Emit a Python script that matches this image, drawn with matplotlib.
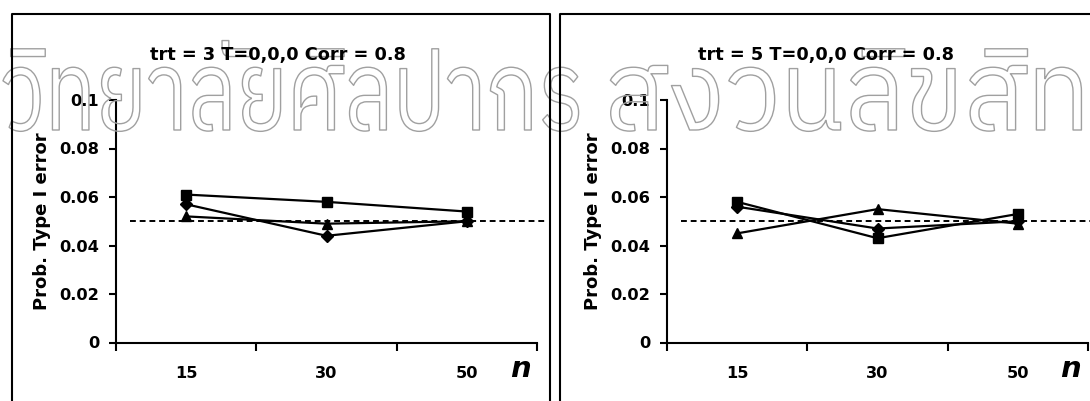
import matplotlib
matplotlib.use("Agg")
import matplotlib.pyplot as plt
from matplotlib import font_manager, ft2font, patheffects
from matplotlib.lines import Line2D
from matplotlib.transforms import Affine2D

# ---- data -------------------------------------------------------------
sample_sizes = ["15", "30", "50"]
y_ticks = [0, 0.02, 0.04, 0.06, 0.08, 0.1]
y_tick_labels = ["0", "0.02", "0.04", "0.06", "0.08", "0.1"]
nominal_alpha = 0.05

panel_titles = ["trt = 3 T=0,0,0 Corr = 0.8", "trt = 5 T=0,0,0 Corr = 0.8"]

trt3_diamond = [0.057, 0.044, 0.050]
trt3_square = [0.061, 0.058, 0.054]
trt3_triangle = [0.052, 0.049, 0.050]

trt5_diamond = [0.056, 0.047, 0.050]
trt5_square = [0.058, 0.043, 0.053]
trt5_triangle = [0.045, 0.055, 0.049]

y_label = "Prob. Type I error"
x_label = "n"
watermark_left = "มหาวิทยาลัยศิลปากร"
watermark_left_head = "มหา"
watermark_right = "สงวนลิขสิทธิ์"
watermark_right_shown = "สงวนลิขสิท"

# ---- figure -----------------------------------------------------------
W, H = 1090, 401
plt.rcParams["font.family"] = "DejaVu Sans"
plt.rcParams["font.weight"] = "bold"

fig = plt.figure(figsize=(W / 100, H / 100), dpi=100)


def fx(px):
    return px / W


def fy(py):
    return 1 - py / H


def find_thai_font():
    found = []
    for entry in font_manager.fontManager.ttflist:
        try:
            cmap = ft2font.FT2Font(entry.fname).get_charmap()
        except Exception:
            continue
        if 0x0E27 in cmap and 0x0E2A in cmap and 0x0E17 in cmap:
            found.append(entry.name)
    if not found:
        return None
    # a plain, loopless face reads closest to the condensed display style
    for name in found:
        if "Thai" in name and "Looped" not in name and "UI" not in name:
            return name
    for name in found:
        if "Looped" not in name:
            return name
    return found[0]


class OutlineStretch(patheffects.AbstractPathEffect):
    """Hollow outline of the glyphs, rescaled about an anchor point."""

    def __init__(self, sx, sy, anchor, color, lw):
        super().__init__()
        self.sx, self.sy = sx, sy
        self.anchor = anchor
        self.color = color
        self.lw = lw

    def draw_path(self, renderer, gc, tpath, affine, rgbFace):
        ax_, ay_ = self.anchor
        stretch = (Affine2D().translate(-ax_, -ay_)
                   .scale(self.sx, self.sy).translate(ax_, ay_))
        gc0 = renderer.new_gc()
        gc0.copy_properties(gc)
        gc0.set_foreground(self.color)
        gc0.set_linewidth(self.lw)
        renderer.draw_path(gc0, tpath, affine + stretch, None)
        gc0.restore()


# outlined watermark across the top, in two words
thai_font = find_thai_font()
if thai_font is not None:
    renderer = fig.canvas.get_renderer()
    wm_size = 60
    wm_sy = 1.35
    base_px = 130
    wm_color = "#a0a0a0"
    wm_kw = dict(fontsize=wm_size, family=thai_font, fontweight="normal",
                 color="none", ha="left", va="baseline", zorder=0)

    def text_width(s):
        t = fig.text(0, 0, s, **wm_kw)
        w = t.get_window_extent(renderer).width
        t.remove()
        return w

    # first word: starts past the left edge, ends just before the panel gap
    w_head = text_width(watermark_left_head)
    sx_left = 583.0 / (text_width(watermark_left) - w_head)
    x0_left = -w_head * sx_left
    fig.text(fx(x0_left), fy(base_px), watermark_left, **wm_kw,
             path_effects=[OutlineStretch(sx_left, wm_sy, (x0_left, H - base_px),
                                          wm_color, 1.0)])

    # second word: runs off the right edge
    x0_right = 604.0
    sx_right = (1090.0 - x0_right) / text_width(watermark_right_shown)
    fig.text(fx(x0_right), fy(base_px), watermark_right, **wm_kw,
             path_effects=[OutlineStretch(sx_right, wm_sy, (x0_right, H - base_px),
                                          wm_color, 1.0)])

# panel frames
frame_kw = dict(color="black", lw=1.5, transform=fig.transFigure, clip_on=False)
fig.add_artist(Line2D([fx(12), fx(12), fx(550), fx(550)],
                      [fy(405), fy(14), fy(14), fy(405)], **frame_kw))
fig.add_artist(Line2D([fx(560), fx(560), fx(1095)],
                      [fy(405), fy(14), fy(14)], **frame_kw))

panels = [
    (116, panel_titles[0], 278, (trt3_diamond, trt3_square, trt3_triangle), 520),
    (667, panel_titles[1], 826, (trt5_diamond, trt5_square, trt5_triangle), 1070),
]

x = [1, 2, 3]
for left_px, title, title_x, series, n_x in panels:
    ax = fig.add_axes([fx(left_px), fy(342.5), 421 / W, 242.5 / H])
    ax.set_xlim(0.5, 3.5)
    ax.set_ylim(0, 0.1)
    ax.patch.set_alpha(0)
    for side in ("top", "right"):
        ax.spines[side].set_visible(False)
    for side in ("left", "bottom"):
        ax.spines[side].set_linewidth(1.5)

    ax.set_xticks([0.5, 1.5, 2.5, 3.5])
    ax.set_xticklabels([])
    ax.set_xticks(x, minor=True)
    ax.set_xticklabels(sample_sizes, minor=True)
    ax.tick_params(axis="x", which="major", direction="out", length=6, width=1.5)
    ax.tick_params(axis="x", which="minor", length=0, pad=17, labelsize=11.7)
    ax.set_yticks(y_ticks)
    ax.set_yticklabels(y_tick_labels)
    ax.tick_params(axis="y", direction="out", length=5, width=1.5, pad=7,
                   labelsize=11.7)

    ax.plot([0.6, 3.56], [nominal_alpha, nominal_alpha], color="black", lw=1.4,
            ls=(0, (3.0, 2.0)), clip_on=False, zorder=2)

    diamond, square, triangle = series
    ax.plot(x, diamond, color="black", lw=1.6, marker="D", ms=6, zorder=3,
            clip_on=False)
    ax.plot(x, square, color="black", lw=1.6, marker="s", ms=6.5, zorder=3,
            clip_on=False)
    ax.plot(x, triangle, color="black", lw=1.6, marker="^", ms=7, zorder=3,
            clip_on=False)

    fig.text(fx(title_x), fy(55), title, fontsize=12.8, fontweight="bold",
             ha="center", va="center")
    fig.text(fx(left_px - 74), fy(221), y_label, fontsize=13, fontweight="bold",
             rotation=90, ha="center", va="center")
    fig.text(fx(n_x), fy(369), x_label, fontsize=21, fontweight="bold",
             style="italic", ha="center", va="center")

fig.savefig("out.png", dpi=100)
